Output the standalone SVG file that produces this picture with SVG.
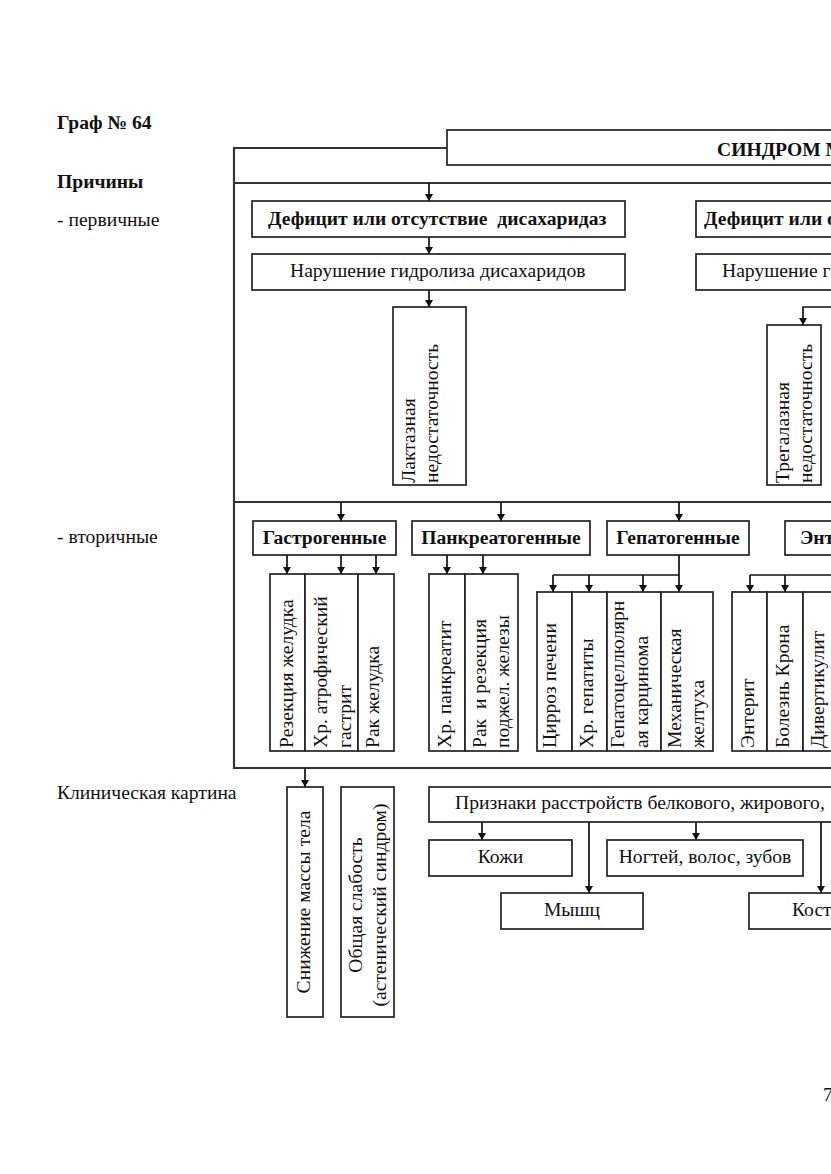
<svg xmlns="http://www.w3.org/2000/svg" width="831" height="1174" viewBox="0 0 831 1174">
<defs>
<marker id="ah" markerUnits="userSpaceOnUse" markerWidth="8" markerHeight="9" refX="7" refY="4" orient="auto">
<path d="M0,0 L7,4 L0,8 z" fill="#111"/>
</marker>
<style>
.box{fill:#fff;stroke:#222;stroke-width:1.7}
.frame{fill:none;stroke:#333;stroke-width:2.2}
.ln{fill:none;stroke:#111;stroke-width:1.7}
.ar{fill:none;stroke:#111;stroke-width:1.7;marker-end:url(#ah)}
text{font-family:"Liberation Serif","Times New Roman",serif;font-size:19.6px;fill:#111}
.b{font-weight:bold}
.m{text-anchor:middle}
</style>
</defs>
<rect width="831" height="1174" fill="#fff"/>

<g id="labels">
<text class="b" x="57" y="129">Граф № 64</text>
<text class="b" x="57" y="188">Причины</text>
<text x="57" y="226">- первичные</text>
<text x="57" y="543">- вторичные</text>
<text x="57" y="799">Клиническая картина</text>
<text x="823" y="1101">7</text>
</g>

<g id="frame">
<path class="frame" d="M447,148 H234 V768 H831 M234,183 H831 M234,502 H831"/>
</g>

<g id="connectors">
<line class="ar" x1="429" y1="183" x2="429" y2="201"/>
<line class="ar" x1="429" y1="237" x2="429" y2="254"/>
<line class="ar" x1="429" y1="290" x2="429" y2="307"/>
<path class="ar" d="M831,307 H803 V325"/>
<line class="ar" x1="341" y1="502" x2="341" y2="521"/>
<line class="ar" x1="501" y1="502" x2="501" y2="521"/>
<line class="ar" x1="679" y1="502" x2="679" y2="521"/>
<line class="ar" x1="287" y1="555" x2="287" y2="574"/>
<line class="ar" x1="341" y1="555" x2="341" y2="574"/>
<line class="ar" x1="376" y1="555" x2="376" y2="574"/>
<line class="ar" x1="447" y1="555" x2="447" y2="574"/>
<line class="ar" x1="483" y1="555" x2="483" y2="574"/>
<line class="ar" x1="679" y1="555" x2="679" y2="592"/>
<path class="ln" d="M553,575 H679"/>
<line class="ar" x1="553" y1="575" x2="553" y2="592"/>
<line class="ar" x1="589" y1="575" x2="589" y2="592"/>
<line class="ar" x1="643" y1="575" x2="643" y2="592"/>
<path class="ln" d="M750,575 H831"/>
<line class="ar" x1="750" y1="575" x2="750" y2="592"/>
<line class="ar" x1="785" y1="575" x2="785" y2="592"/>
<line class="ar" x1="305" y1="768" x2="305" y2="787"/>
<line class="ar" x1="482" y1="822" x2="482" y2="840"/>
<line class="ar" x1="589" y1="822" x2="589" y2="893"/>
<line class="ar" x1="696" y1="822" x2="696" y2="840"/>
<line class="ar" x1="821" y1="822" x2="821" y2="893"/>
</g>

<g id="title">
<rect class="box" x="447" y="130" width="400" height="35"/>
<text class="b" x="717" y="156">СИНДРОМ М</text>
</g>

<g id="deficit1">
<rect class="box" x="252" y="201" width="373" height="36"/>
<text class="b" x="268" y="225" style="white-space:pre">Дефицит или отсутствие  дисахаридаз</text>
</g>
<g id="deficit2">
<rect class="box" x="696" y="201" width="150" height="36"/>
<text class="b" x="704" y="225">Дефицит или о</text>
</g>
<g id="hydro1">
<rect class="box" x="252" y="254" width="373" height="36"/>
<text x="290" y="277">Нарушение гидролиза дисахаридов</text>
</g>
<g id="hydro2">
<rect class="box" x="696" y="254" width="150" height="36"/>
<text x="722" y="277">Нарушение г</text>
</g>

<g id="lactase">
<rect class="box" x="393" y="307" width="73" height="178"/>
<text transform="translate(415,483) rotate(-90)"><tspan x="0" y="0">Лактазная</tspan><tspan x="0" dy="23">недостаточность</tspan></text>
</g>
<g id="trehalase">
<rect class="box" x="767" y="325" width="54" height="160"/>
<text transform="translate(789,483) rotate(-90)"><tspan x="0" y="0">Трегалазная</tspan><tspan x="0" dy="23">недостаточность</tspan></text>
</g>

<g id="gastro">
<rect class="box" x="253" y="521" width="143" height="34"/>
<text class="b m" x="324.5" y="544">Гастрогенные</text>
</g>
<g id="pancreato">
<rect class="box" x="412" y="521" width="178" height="34"/>
<text class="b m" x="501" y="544">Панкреатогенные</text>
</g>
<g id="hepato">
<rect class="box" x="607" y="521" width="142" height="34"/>
<text class="b m" x="678" y="544">Гепатогенные</text>
</g>
<g id="entero">
<rect class="box" x="785" y="521" width="60" height="34"/>
<text class="b" x="800" y="544">Энт</text>
</g>

<g id="gastro-sub">
<rect class="box" x="270" y="574" width="35" height="177"/>
<rect class="box" x="305" y="574" width="53" height="177"/>
<rect class="box" x="358" y="574" width="36" height="177"/>
<text transform="translate(293,748) rotate(-90)">Резекция желудка</text>
<text transform="translate(327,748) rotate(-90)"><tspan x="0" y="0">Хр. атрофический</tspan><tspan x="0" dy="24">гастрит</tspan></text>
<text transform="translate(379,748) rotate(-90)">Рак желудка</text>
</g>
<g id="pancreato-sub">
<rect class="box" x="429" y="574" width="36" height="177"/>
<rect class="box" x="465" y="574" width="53" height="177"/>
<text transform="translate(451,748) rotate(-90)">Хр. панкреатит</text>
<text transform="translate(486,748) rotate(-90)" style="white-space:pre"><tspan x="0" y="0">Рак  и резекция</tspan><tspan x="0" dy="23">поджел. железы</tspan></text>
</g>
<g id="hepato-sub">
<rect class="box" x="537" y="592" width="35" height="159"/>
<rect class="box" x="572" y="592" width="35" height="159"/>
<rect class="box" x="607" y="592" width="54" height="159"/>
<rect class="box" x="661" y="592" width="52" height="159"/>
<text transform="translate(556,748) rotate(-90)">Цирроз печени</text>
<text transform="translate(593,748) rotate(-90)">Хр. гепатиты</text>
<text transform="translate(624,748) rotate(-90)"><tspan x="0" y="0">Гепатоцеллюлярн</tspan><tspan x="0" dy="24">ая карцинома</tspan></text>
<text transform="translate(681,748) rotate(-90)"><tspan x="0" y="0">Механическая</tspan><tspan x="0" dy="23">желтуха</tspan></text>
</g>
<g id="entero-sub">
<rect class="box" x="732" y="592" width="35" height="159"/>
<rect class="box" x="767" y="592" width="36" height="159"/>
<rect class="box" x="803" y="592" width="40" height="159"/>
<text transform="translate(754,748) rotate(-90)">Энтерит</text>
<text transform="translate(789,748) rotate(-90)">Болезнь Крона</text>
<text transform="translate(824,748) rotate(-90)">Дивертикулит</text>
</g>

<g id="weight">
<rect class="box" x="287" y="787" width="36" height="230"/>
<text class="m" transform="translate(310,902) rotate(-90)">Снижение массы тела</text>
</g>
<g id="weakness">
<rect class="box" x="341" y="787" width="53" height="230"/>
<text class="m" transform="translate(362,905) rotate(-90)"><tspan x="0" y="0">Общая слабость</tspan><tspan x="0" dy="24">(астенический синдром)</tspan></text>
</g>
<g id="signs">
<rect class="box" x="429" y="787" width="420" height="35"/>
<text x="455" y="809">Признаки расстройств белкового, жирового,</text>
</g>
<g id="skin">
<rect class="box" x="429" y="840" width="143" height="36"/>
<text class="m" x="500.5" y="863">Кожи</text>
</g>
<g id="nails">
<rect class="box" x="607" y="840" width="196" height="36"/>
<text class="m" x="705" y="863">Ногтей, волос, зубов</text>
</g>
<g id="muscle">
<rect class="box" x="501" y="893" width="142" height="36"/>
<text class="m" x="572" y="916">Мышц</text>
</g>
<g id="bone">
<rect class="box" x="749" y="893" width="100" height="36"/>
<text x="792" y="916">Кост</text>
</g>
</svg>
